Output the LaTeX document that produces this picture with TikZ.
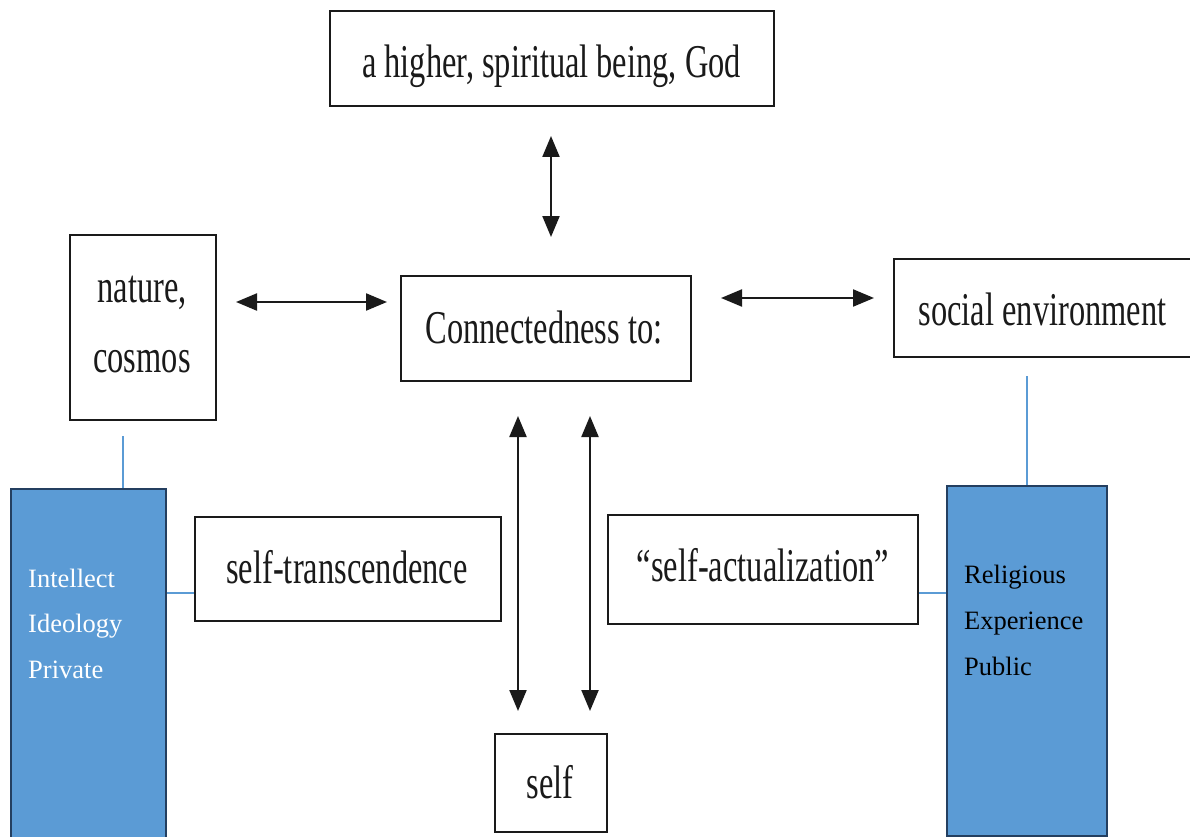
\documentclass[tikz,border=0pt]{standalone}
\usepackage{fontspec}
\setmainfont{Liberation Serif}
\newfontfamily\condserif[FakeStretch=0.69]{Liberation Serif}
\usetikzlibrary{arrows.meta}
\definecolor{boxblue}{HTML}{5B9BD5}
\definecolor{edgeblue}{HTML}{243F60}
\definecolor{ink}{HTML}{1A1A1A}
\begin{document}
\begin{tikzpicture}[x=1pt,y=-1pt,
  frame/.style={draw=ink, line width=2pt, fill=white, inner sep=0pt},
  panel/.style={draw=edgeblue, line width=2pt, fill=boxblue, inner sep=0pt},
  lbl/.style={font=\condserif\fontsize{47}{56}\selectfont, inner sep=0pt, anchor=base, text=ink},
  note/.style={font=\fontsize{26.5}{30}\selectfont, inner sep=0pt, anchor=base west},
  arr/.style={draw=ink, line width=2.2pt,
    {Triangle[length=21pt,width=17pt]}-{Triangle[length=21pt,width=17pt]}},
  link/.style={draw=boxblue, line width=1.2pt}]
\clip (0,0) rectangle (1190,837);

% boxes
\node[frame, minimum width=444pt, minimum height=95pt]  (god)    at (552,58.5)  {};
\node[frame, minimum width=146pt, minimum height=185pt] (nature) at (143,327.5) {};
\node[frame, minimum width=290pt, minimum height=105pt] (conn)   at (546,328.5) {};
\node[frame, minimum width=316pt, minimum height=98pt]  (social) at (1052,308)  {};
\node[frame, minimum width=306pt, minimum height=104pt] (trans)  at (348,569)   {};
\node[frame, minimum width=310pt, minimum height=109pt] (actual) at (763,569.5) {};
\node[frame, minimum width=112pt, minimum height=98pt]  (self)   at (551,783)   {};
\node[panel, minimum width=155pt, minimum height=371pt] (lpanel) at (88.5,674.5) {};
\node[panel, minimum width=160pt, minimum height=350pt] (rpanel) at (1027,661)  {};

% box labels
\node[lbl] (godtext)    at (551.5,78) {a higher, spiritual being, God};
\node[lbl] (naturetext) at (142,302)  {nature,};
\node[lbl] (cosmostext) at (142,372)  {cosmos};
\node[lbl] (conntext)   at (544,343)  {Connectedness to:};
\node[lbl] (socialtext) at (1042.5,325) {social environment};
\node[lbl] (transtext)  at (347,583)  {self-transcendence};
\node[lbl] (actualtext) at (763,581)  {“self-actualization”};
\node[lbl] (selftext)   at (550,798)  {self};

% panel labels
\node[note, text=white] (l1) at (28,587) {Intellect};
\node[note, text=white] (l2) at (28,632) {Ideology};
\node[note, text=white] (l3) at (28,678) {Private};
\node[note, text=black] (r1) at (964,583) {Religious};
\node[note, text=black] (r2) at (964,629) {Experience};
\node[note, text=black] (r3) at (964,675) {Public};

% x/y positions of the connectors
\coordinate (vl) at (518,0);
\coordinate (vr) at (590,0);
\coordinate (hl) at (0,302);
\coordinate (hr) at (0,298);
\coordinate (tl) at (123,0);
\coordinate (tr) at (1027,0);
\coordinate (ty) at (0,593);

% double arrows
\draw[arr, shorten <=29pt, shorten >=38pt] (god.south -| 551,0) -- (conn.north -| 551,0);
\draw[arr, shorten <=19pt, shorten >=13pt] (nature.east |- hl) -- (conn.west |- hl);
\draw[arr, shorten <=29pt, shorten >=19pt] (conn.east |- hr) -- (social.west |- hr);
\draw[arr, shorten <=34pt, shorten >=22pt] (conn.south -| vl) -- (self.north -| vl);
\draw[arr, shorten <=34pt, shorten >=22pt] (conn.south -| vr) -- (self.north -| vr);

% thin links to the panels
\draw[link, shorten <=15pt] (nature.south -| tl) -- (lpanel.north -| tl);
\draw[link] (lpanel.east |- ty) -- (trans.west |- ty);
\draw[link, shorten <=18pt] (social.south -| tr) -- (rpanel.north -| tr);
\draw[link] (actual.east |- ty) -- (rpanel.west |- ty);
\end{tikzpicture}
\end{document}
